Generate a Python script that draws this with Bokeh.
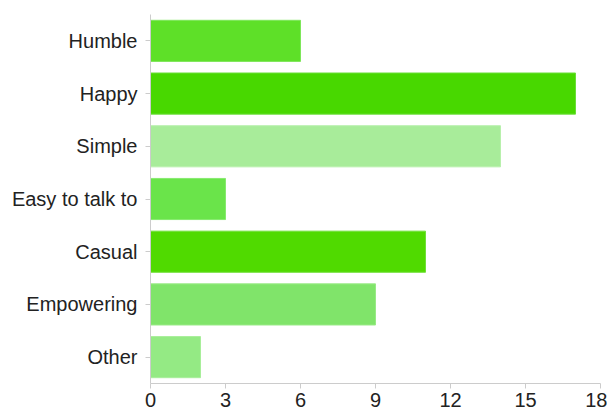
from bokeh.plotting import figure
from bokeh.models import ColumnDataSource, Range1d, FactorRange, FixedTicker
from bokeh.embed import file_html
from bokeh.resources import INLINE

categories = ["Humble", "Happy", "Simple", "Easy to talk to", "Casual", "Empowering", "Other"]
counts = [6, 17, 14, 3, 11, 9, 2]
colors = ["#5ee028", "#48d800", "#a8ec9a", "#6ae44a", "#50da00", "#80e46a", "#94ea84"]
edges = ["#7ee65a", "#6ade38", "#b8f0ac", "#86ea6e", "#70e038", "#98ea86", "#a8ee9a"]
x_ticks = [0, 3, 6, 9, 12, 15, 18]

source = ColumnDataSource(dict(cat=categories, n=counts, c=colors, e=edges))

p = figure(width=607, height=412, output_backend="svg", toolbar_location=None,
           y_range=FactorRange(*categories[::-1]), x_range=Range1d(0, 18),
           min_border_left=150, min_border_right=7, min_border_top=14, min_border_bottom=29)
p.hbar(y="cat", right="n", left=0, height=0.78, fill_color="c", line_color="e",
       line_width=1, source=source)

p.outline_line_color = None
p.xgrid.grid_line_color = None
p.ygrid.grid_line_color = None
p.y_range.range_padding = 0

for ax in (p.xaxis[0], p.yaxis[0]):
    ax.axis_line_color = "#cccccc"
    ax.major_tick_line_color = "#cccccc"
    ax.minor_tick_line_color = None
    ax.major_tick_in = 0
    ax.major_tick_out = 5
    ax.major_label_text_font = "Liberation Sans"
    ax.major_label_text_font_size = "20px"
    ax.major_label_text_color = "#222222"
    ax.major_label_text_font_style = "normal"

p.xaxis[0].ticker = FixedTicker(ticks=x_ticks)
p.xaxis[0].major_label_standoff = 4
p.yaxis[0].major_label_standoff = 8

open("out.html", "w").write(file_html(p, INLINE))
